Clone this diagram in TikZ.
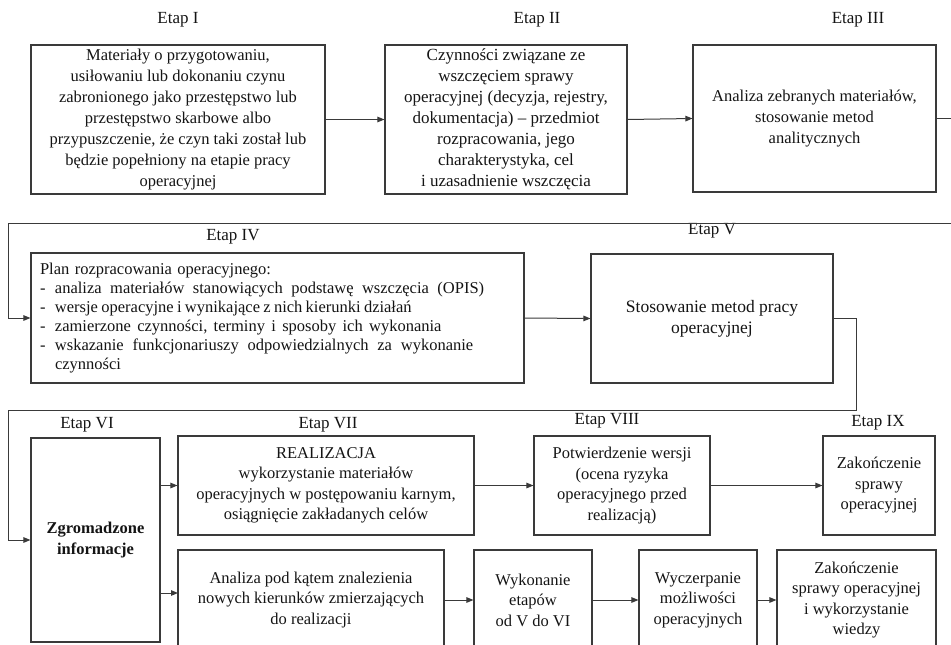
\documentclass[tikz,border=0pt]{standalone}
\usepackage{fontspec}
\setmainfont{Liberation Serif}
\usetikzlibrary{arrows.meta}
\definecolor{ln}{HTML}{3A3A3A}
\definecolor{tx}{HTML}{141414}
\tikzset{
  stagebox/.style={draw=ln, line width=1.1pt, rectangle, inner sep=3pt, align=center,
    text=tx, font=\fontsize{16.5}{20.5}\selectfont},
  stagelabel/.style={text=tx, font=\fontsize{17}{20}\selectfont, inner sep=0pt},
  arr/.style={draw=ln, line width=1pt, -{Triangle[length=7pt,width=5.5pt]}},
  link/.style={draw=ln, line width=1pt},
}
% one item of the plan list, with its own word spacing
\newcommand{\dashitem}[2]{\mbox{\spaceskip=#1\relax\makebox[15pt][l]{-}#2}}
\begin{document}
\begin{tikzpicture}[x=1pt,y=-1pt]
\useasboundingbox (0,0) rectangle (951,645);

% stage captions
\node[stagelabel] (l1) at (178,20) {Etap I};
\node[stagelabel] (l2) at (537,20) {Etap II};
\node[stagelabel] (l3) at (858,20) {Etap III};
\node[stagelabel] (l4) at (233,237) {Etap IV};
\node[stagelabel] (l5) at (712,231) {Etap V};
\node[stagelabel] (l6) at (87,425) {Etap VI};
\node[stagelabel] (l7) at (328,425) {Etap VII};
\node[stagelabel] (l8) at (607,421) {Etap VIII};
\node[stagelabel] (l9) at (878,423) {Etap IX};

% first row
\node[stagebox, minimum width=294, minimum height=149, font=\fontsize{16.5}{21}\selectfont] (b1) at (178,119.5)
  {Materiały o przygotowaniu,\\usiłowaniu lub dokonaniu czynu\\zabronionego jako przestępstwo lub\\przestępstwo skarbowe albo\\przypuszczenie, że czyn taki został lub\\będzie popełniony na etapie pracy\\operacyjnej};
\node[stagebox, minimum width=242, minimum height=149, font=\fontsize{17}{21}\selectfont] (b2) at (506,119.5)
  {Czynności związane ze\\wszczęciem sprawy\\operacyjnej (decyzja, rejestry,\\dokumentacja) – przedmiot\\rozpracowania, jego\\charakterystyka, cel\\i uzasadnienie wszczęcia};
\node[stagebox, minimum width=243, minimum height=147, font=\fontsize{16.5}{21}\selectfont] (b3) at (814.5,118.5)
  {Analiza zebranych materiałów,\\stosowanie metod\\analitycznych};

% second row
\node[stagebox, minimum width=493, minimum height=130, text width=475, align=left,
  font=\fontsize{16.5}{19}\selectfont] (b4) at (277.5,318)
  {\mbox{Plan rozpracowania operacyjnego:}\\
   \dashitem{8.5pt}{analiza materiałów stanowiących podstawę wszczęcia (OPIS)}\\
   \dashitem{3.3pt}{wersje operacyjne i wynikające z nich kierunki działań}\\
   \dashitem{6.3pt}{zamierzone czynności, terminy i sposoby ich wykonania}\\
   \dashitem{8.8pt}{wskazanie funkcjonariuszy odpowiedzialnych za wykonanie}\\
   \hspace*{15pt}czynności};
\node[stagebox, minimum width=242, minimum height=129, font=\fontsize{17.5}{21}\selectfont] (b5) at (712,318.5)
  {Stosowanie metod pracy\\operacyjnej};

% third row
\node[stagebox, minimum width=129, minimum height=204, font=\fontsize{16.5}{20.5}\selectfont\bfseries] (b6) at (95.5,540)
  {Zgromadzone\\informacje};
\node[stagebox, minimum width=296, minimum height=99] (b7) at (326,485.5)
  {REALIZACJA\\wykorzystanie materiałów\\operacyjnych w postępowaniu karnym,\\osiągnięcie zakładanych celów};
\node[stagebox, minimum width=176, minimum height=99] (b8) at (622,485.5)
  {Potwierdzenie wersji\\(ocena ryzyka\\operacyjnego przed\\realizacją)};
\node[stagebox, minimum width=112, minimum height=99] (b9) at (879,485.5)
  {Zakończenie\\sprawy\\operacyjnej};
\node[stagebox, minimum width=266, minimum height=100] (b10) at (311,600)
  {Analiza pod kątem znalezienia\\nowych kierunków zmierzających\\do realizacji};
\node[stagebox, minimum width=118, minimum height=100] (b11) at (533,600)
  {Wykonanie\\etapów\\od V do VI};
\node[stagebox, minimum width=118, minimum height=100] (b12) at (698,600)
  {Wyczerpanie\\możliwości\\operacyjnych};
\node[stagebox, minimum width=159, minimum height=100] (b13) at (856.5,600)
  {Zakończenie\\sprawy operacyjnej\\i wykorzystanie\\wiedzy};

% turning points of the wrap-around connectors
\coordinate (r1) at (962,223);
\coordinate (w1) at (8,223);
\coordinate (r2) at (856,410);
\coordinate (w2) at (8,410);
\coordinate (a6) at (178,593);

% connectors
\draw[arr] (b1.east) -- (b2.west);
\draw[arr] (b2.east) -- (b3.west);
\draw[arr] (b3.east) -- (b3.east -| r1) |- (w1) |- (b4.west);
\draw[arr] (b4.east) -- (b5.west);
\draw[arr] (b5.east) -| (r2) -- (w2) |- (b6.west);
\draw[arr] (b6.east |- b7.west) -- (b7.west);
\draw[arr] (b6.east |- a6) -- (a6);
\draw[arr] (b7.east) -- (b8.west);
\draw[arr] (b8.east) -- (b9.west);
\draw[arr] (b10.east) -- (b11.west);
\draw[arr] (b11.east) -- (b12.west);
\draw[arr] (b12.east) -- (b13.west);
\end{tikzpicture}
\end{document}
